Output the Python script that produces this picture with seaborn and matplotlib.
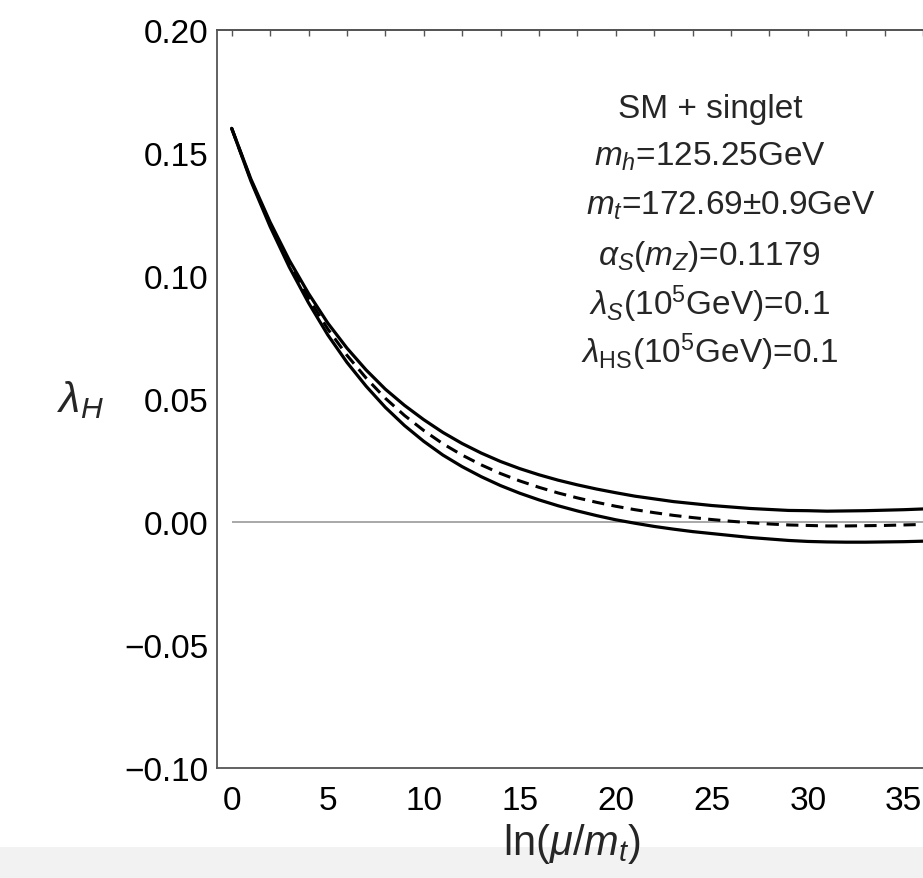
import numpy as np
import pandas as pd
import matplotlib
matplotlib.use("Agg")
import matplotlib.pyplot as plt
import seaborn as sns
from matplotlib.patches import Rectangle
from matplotlib.ticker import MultipleLocator

# ---------- DATA ----------
x_vals = list(range(0, 38))
lam_central = [0.1600, 0.1390, 0.1210, 0.1050, 0.0910, 0.0785, 0.0678, 0.0585,
               0.0503, 0.0433, 0.0372, 0.0318, 0.0272, 0.0232, 0.0197, 0.0167,
               0.0141, 0.0118, 0.0098, 0.0080, 0.0064, 0.0050, 0.0038, 0.0027,
               0.0018, 0.0010, 0.0003, -0.0003, -0.0008, -0.0012, -0.0014, -0.0016,
               -0.0016, -0.0015, -0.0014, -0.0012, -0.0010, -0.0008]
lam_upper = [0.1600, 0.1394, 0.1219, 0.1064, 0.0929, 0.0809, 0.0707, 0.0618,
             0.0540, 0.0474, 0.0416, 0.0364, 0.0319, 0.0280, 0.0246, 0.0217,
             0.0192, 0.0170, 0.0151, 0.0134, 0.0119, 0.0105, 0.0094, 0.0083,
             0.0075, 0.0067, 0.0061, 0.0055, 0.0051, 0.0047, 0.0046, 0.0044,
             0.0045, 0.0046, 0.0048, 0.0050, 0.0053, 0.0055]
lam_lower = [0.1600, 0.1386, 0.1201, 0.1036, 0.0891, 0.0761, 0.0649, 0.0552,
             0.0466, 0.0392, 0.0328, 0.0272, 0.0225, 0.0184, 0.0148, 0.0117,
             0.0090, 0.0066, 0.0045, 0.0026, 0.0009, -0.0005, -0.0018, -0.0029,
             -0.0039, -0.0047, -0.0055, -0.0063, -0.0069, -0.0075, -0.0079, -0.0081,
             -0.0082, -0.0082, -0.0081, -0.0080, -0.0078, -0.0076]

x_ticks = [0, 5, 10, 15, 20, 25, 30, 35]
y_ticks = [-0.10, -0.05, 0.00, 0.05, 0.10, 0.15, 0.20]

info_lines = [
    "SM + singlet",
    r"$m_h$=125.25GeV",
    r"$m_t$=172.69±0.9GeV",
    r"$\alpha_S(m_Z)$=0.1179",
    r"$\lambda_S$(10$^5$GeV)=0.1",
    r"$\lambda_{\mathrm{HS}}$(10$^5$GeV)=0.1",
]

# ---------- STYLE ----------
sns.set_style("white")
plt.rcParams["font.family"] = ["Liberation Sans", "DejaVu Sans"]
plt.rcParams["mathtext.fontset"] = "custom"
plt.rcParams["mathtext.rm"] = "Liberation Sans"
plt.rcParams["mathtext.it"] = "Liberation Sans:italic"
plt.rcParams["mathtext.bf"] = "Liberation Sans:bold"

W, H = 923, 879
fig = plt.figure(figsize=(W / 100, H / 100), dpi=100)
band = Rectangle((0, 0), 1, 31 / H, transform=fig.transFigure,
                 facecolor="#f2f2f2", edgecolor="none", zorder=-10)
fig.patches.append(band)
ax = fig.add_axes([217 / W, 1 - 769 / H, (W - 217) / W, (769 - 31) / H])
ax.set_facecolor("white")

df = pd.DataFrame({"x": x_vals, "central": lam_central,
                   "upper": lam_upper, "lower": lam_lower})

ax.hlines(0, 0, 40, color="#999999", lw=1.2, zorder=1)
sns.lineplot(data=df, x="x", y="upper", ax=ax, color="black", lw=2.3, zorder=3)
sns.lineplot(data=df, x="x", y="lower", ax=ax, color="black", lw=2.3, zorder=3)
sns.lineplot(data=df, x="x", y="central", ax=ax, color="black", lw=2.2,
             linestyle=(0, (4, 2.4)), zorder=3)

ax.set_xlim(-0.766, 36.0)
ax.set_ylim(-0.10, 0.20)

spine_col = "#555555"
for s in ["left", "bottom", "top"]:
    ax.spines[s].set_color(spine_col)
    ax.spines[s].set_linewidth(1.3)
ax.spines["right"].set_visible(False)

ax.set_xticks(x_ticks)
ax.set_yticks(y_ticks)
ax.set_yticklabels([f"{v:.2f}".replace("-", "\u2212") for v in y_ticks])
ax.xaxis.set_minor_locator(MultipleLocator(1))
ax.yaxis.set_minor_locator(MultipleLocator(0.01))
ax.tick_params(axis="both", which="major", direction="in", length=6.5, width=1,
               color=spine_col, labelsize=24, labelcolor="black", pad=6)
ax.tick_params(axis="x", which="major", pad=12)
ax.tick_params(axis="both", which="minor", direction="in", length=4.3, width=1,
               color=spine_col)
ax.tick_params(top=False, right=False, which="both")

top = ax.secondary_xaxis("top")
top.set_xticks(np.arange(0, 40, 2))
top.set_xticklabels([])
top.tick_params(direction="in", length=4.3, width=1, color=spine_col)
top.spines["top"].set_color(spine_col)
top.spines["top"].set_linewidth(1.3)

ax.set_xlabel(r"ln($\mu$/$m_t$)", fontsize=30, va="top")
ax.xaxis.set_label_coords(0.503, -0.072)
ax.set_ylabel(r"$\lambda_H$", fontsize=31, rotation=0, ha="center", va="center")
ax.yaxis.set_label_coords(-0.193, 0.5)

text_x = [0.698, 0.698, 0.728, 0.698, 0.698, 0.698]
text_y = [0.882, 0.817, 0.751, 0.683, 0.615, 0.550]
for tx, ty, s in zip(text_x, text_y, info_lines):
    ax.text(tx, ty, s, transform=ax.transAxes, ha="center", va="baseline",
            fontsize=24)

fig.savefig("out.png", dpi=100)
